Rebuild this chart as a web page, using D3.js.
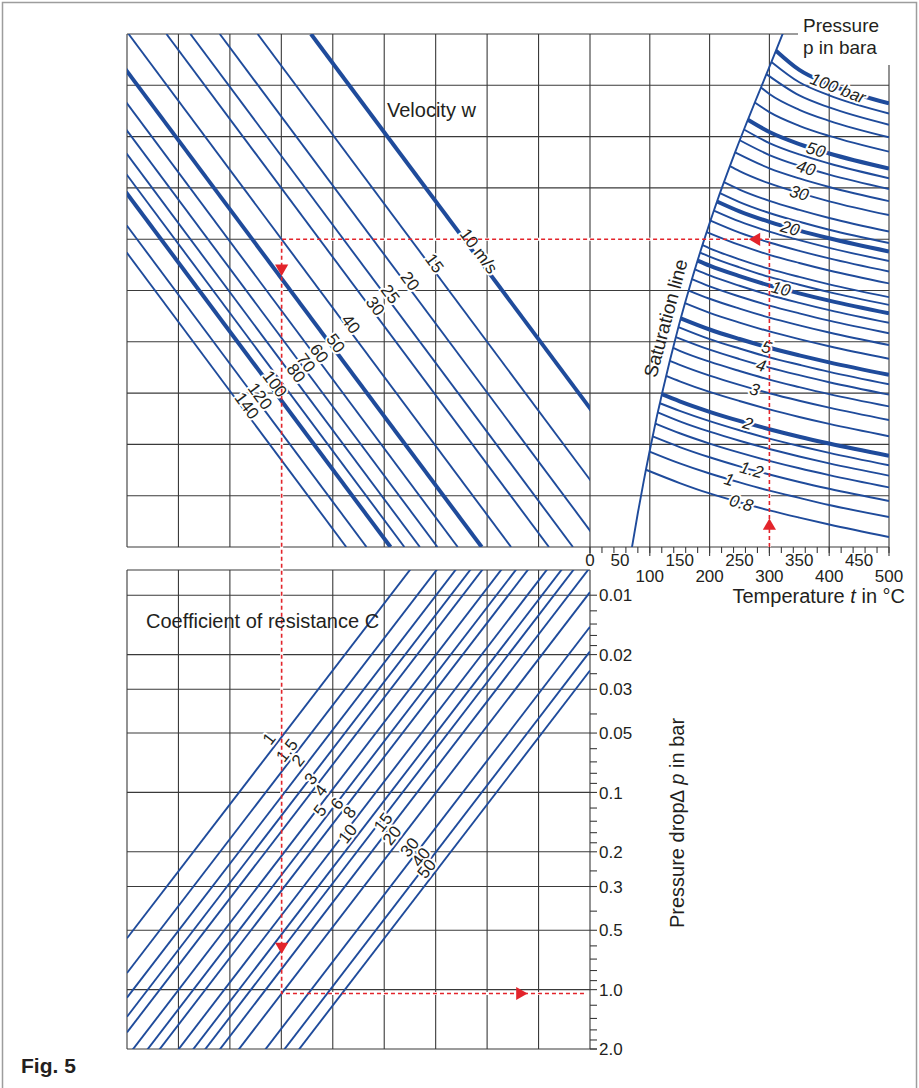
<!DOCTYPE html>
<html>
<head>
<meta charset="utf-8">
<title>Fig. 5</title>
<script src="https://cdn.jsdelivr.net/npm/d3@7/dist/d3.min.js"></script>
<style>
  body { margin: 0; background: #fff; }
  svg { display: block; font-family: "Liberation Sans", Arial, Helvetica, sans-serif; }
</style>
</head>
<body>
<svg id="chart" width="919" height="1088"></svg>
<script>
// velocity lines w in m/s (top left block)
const velocities = [10, 15, 20, 25, 30, 40, 50, 60, 70, 80, 90, 100, 120, 140];
const velThick = [10, 50, 100];
const velLabels = ["10 m/s", "15", "20", "25", "30", "40", "50", "60", "70", "80", null, "100", "120", "140"];
// density (kg/m3) where each velocity label sits on its line
const velLabelRho = [5.54, 4.83, 3.94, 3.40, 2.97, 2.42, 1.95, 1.74, 1.56, 1.39, null, 1.23, 1.07, 0.96];

// coefficient of resistance lines (bottom block)
const zetas = [1, 1.5, 2, 2.5, 3, 4, 5, 6, 8, 10, 12, 15, 20, 30, 40, 50];
const zetaLabels = ["1", "1.5", "2", null, "3", "4", "5", "6", "8", "10", null, "15", "20", "30", "40", "50"];
const zetaLabelDp = [0.0569, 0.0652, 0.0733, null, 0.0908, 0.104, 0.1315, 0.1215, 0.134, 0.1725, null, 0.1507, 0.176, 0.2018, 0.2267, 0.2596];

// pressure drop axis (bar)
const dpMajor = [0.01, 0.02, 0.03, 0.05, 0.1, 0.2, 0.3, 0.5, 1, 2];
const dpMajorLabels = ["0.01", "0.02", "0.03", "0.05", "0.1", "0.2", "0.3", "0.5", "1.0", "2.0"];
const dpMinor = [0.012, 0.014, 0.016, 0.018, 0.025, 0.04, 0.06, 0.07, 0.08, 0.09, 0.12, 0.14, 0.16, 0.18,
                 0.25, 0.4, 0.6, 0.7, 0.8, 0.9, 1.2, 1.4, 1.6, 1.8];

// temperature axis labels
const tempLabelsUpper = [0, 50, 150, 250, 350, 450];
const tempLabelsLower = [100, 200, 300, 400, 500];
const tempGrid = [100, 200, 300, 400, 500];

// steam pressure curves (bara): saturation point + density at table temperatures
const pressures = [100, 90, 80, 70, 60, 50, 45, 40, 35, 30, 25, 22, 20, 18, 16, 14, 12, 11, 10, 9, 8, 7, 6, 5,
                   4.5, 4, 3.5, 3, 2.5, 2, 1.8, 1.6, 1.4, 1.2, 1, 0.8];
const thickPressures = [100, 50, 20, 10, 5, 2];
const satTemp = [311.0, 303.4, 295.0, 285.9, 275.6, 264.0, 257.5, 250.4, 242.6, 233.9, 224.0, 217.3, 212.4, 207.2,
                 201.4, 195.1, 188.0, 184.1, 179.9, 175.4, 170.4, 165.0, 158.8, 151.8, 147.9, 143.6, 138.9, 133.5,
                 127.4, 120.2, 116.9, 113.3, 109.3, 104.8, 99.6, 93.5];
const satRho = [55.46, 48.83, 42.52, 36.54, 30.83, 25.35, 22.70, 20.09, 17.52, 15.00, 12.50, 11.03, 10.04, 9.06,
                8.08, 7.10, 6.12, 5.63, 5.14, 4.65, 4.16, 3.66, 3.17, 2.67, 2.42, 2.16, 1.91, 1.65,
                1.39, 1.13, 1.02, 0.92, 0.81, 0.70, 0.59, 0.48];
const tableTemps = [150, 200, 250, 300, 350, 400, 500];
const rhoTable = [
  [null, null, null, null, 44.60, 37.86, 30.50],
  [null, null, null, null, 38.76, 33.41, 27.21],
  [null, null, null, null, 33.39, 29.14, 23.96],
  [null, null, null, 33.93, 28.38, 25.04, 20.78],
  [null, null, null, 27.65, 23.68, 21.10, 17.65],
  [null, null, null, 22.07, 19.25, 17.30, 14.58],
  [null, null, null, 19.47, 17.11, 15.44, 13.07],
  [null, null, null, 17.00, 15.05, 13.62, 11.57],
  [null, null, null, 14.62, 13.04, 11.83, 10.08],
  [null, null, 14.17, 12.32, 11.06, 10.06, 8.606],
  [null, null, 11.49, 10.11, 9.13, 8.326, 7.148],
  [null, null, 9.97, 8.81, 7.98, 7.289, 6.27],
  [null, null, 8.977, 7.968, 7.215, 6.614, 5.692],
  [null, null, 8.006, 7.133, 6.48, 5.938, 5.115],
  [null, null, 7.052, 6.305, 5.738, 5.266, 4.539],
  [null, null, 6.133, 5.486, 5.001, 4.591, 3.967],
  [null, 5.907, 5.214, 4.677, 4.270, 3.925, 3.394],
  [null, 5.38, 4.76, 4.268, 3.907, 3.592, 3.108],
  [null, 4.854, 4.310, 3.878, 3.545, 3.262, 2.824],
  [null, 4.342, 3.863, 3.480, 3.184, 2.932, 2.539],
  [null, 3.834, 3.420, 3.085, 2.825, 2.602, 2.256],
  [null, 3.334, 2.981, 2.693, 2.467, 2.274, 1.972],
  [null, 2.841, 2.545, 2.302, 2.110, 1.947, 1.689],
  [null, 2.353, 2.112, 1.913, 1.755, 1.620, 1.407],
  [null, 2.112, 1.897, 1.717, 1.578, 1.455, 1.265],
  [null, 1.872, 1.683, 1.527, 1.402, 1.294, 1.125],
  [1.848, 1.633, 1.470, 1.333, 1.225, 1.131, 0.984],
  [1.577, 1.396, 1.257, 1.142, 1.049, 0.970, 0.843],
  [1.308, 1.160, 1.046, 0.951, 0.873, 0.807, 0.702],
  [1.042, 0.926, 0.835, 0.760, 0.698, 0.646, 0.562],
  [0.936, 0.833, 0.751, 0.683, 0.628, 0.581, 0.505],
  [0.831, 0.739, 0.667, 0.607, 0.558, 0.516, 0.449],
  [0.726, 0.646, 0.583, 0.531, 0.488, 0.452, 0.393],
  [0.621, 0.553, 0.499, 0.455, 0.418, 0.387, 0.337],
  [0.516, 0.460, 0.416, 0.379, 0.349, 0.322, 0.281],
  [0.413, 0.367, 0.332, 0.303, 0.279, 0.258, 0.224]
];
// saturation line beyond the drawn pressures [t, rho]
const satExtra = [[70, 0.198], [80, 0.294], [90, 0.424], [320, 64.6], [325, 70.4]];

const pressureLabels = [100, 50, 40, 30, 20, 10, 5, 4, 3, 2, 1.2, 1, 0.8];
const pressureLabelT = [415, 378, 361, 350, 335, 319, 295, 286, 275, 264, 270, 233, 253];

// worked example drawn in red
const example = { t: 300, rho: 6.54, w: 40, zeta: 20 };

// ---- layout ----
const svg = d3.select("#chart");
const blue = "#1f4b9b", red = "#e3242b", ink = "#231f20", gridColor = "#3a3a3a";

const left = 127, mid = 590, right = 889;
const topY0 = 34, topY1 = 547, botY0 = 570, botY1 = 1049;

// dynamic pressure q = rho w^2 / 2 (Pa), shared by both blocks
const xQ = d3.scaleLog().domain([54900, 48.2]).range([left, mid]);
const yRho = d3.scaleLog().domain([67, 0.2]).range([topY0, topY1]);
const xT = d3.scaleLinear().domain([0, 500]).range([mid, right]);
const yDp = d3.scaleLog().domain([0.00745, 2]).range([botY0, botY1]);
const colX = d3.scaleLinear().domain([0, 9]).range([left, mid]);
const rowY = d3.scaleLinear().domain([0, 10]).range([topY0, topY1]);

const defs = svg.append("defs");
defs.append("clipPath").attr("id", "clip-top").append("rect")
    .attr("x", left).attr("y", topY0).attr("width", mid - left).attr("height", topY1 - topY0);
defs.append("clipPath").attr("id", "clip-bot").append("rect")
    .attr("x", left).attr("y", botY0).attr("width", mid - left).attr("height", botY1 - botY0);
defs.append("clipPath").attr("id", "clip-right").append("rect")
    .attr("x", mid).attr("y", topY0).attr("width", right - mid).attr("height", topY1 - topY0);

svg.append("rect").attr("x", 2.5).attr("y", 2.5).attr("width", 914).attr("height", 1100)
    .attr("fill", "none").attr("stroke", "#9d9d9d").attr("stroke-width", 1.5);

// ---- grid ----
const grid = svg.append("g").attr("stroke", gridColor).attr("stroke-width", 1.1);

grid.selectAll("line.vt").data(d3.range(10)).join("line").attr("class", "vt")
    .attr("x1", colX).attr("x2", colX).attr("y1", topY0).attr("y2", topY1);
grid.selectAll("line.vb").data(d3.range(10)).join("line").attr("class", "vb")
    .attr("x1", colX).attr("x2", colX).attr("y1", botY0).attr("y2", botY1);
grid.selectAll("line.vr").data(tempGrid).join("line").attr("class", "vr")
    .attr("x1", xT).attr("x2", xT)
    .attr("y1", d => d === 500 ? 65 : d === 400 ? rowY(1) : topY0)
    .attr("y2", d => topY1 + (d % 100 === 0 ? 9 : 6));
grid.selectAll("line.ht").data(d3.range(11)).join("line").attr("class", "ht")
    .attr("x1", left).attr("x2", d => d === 0 ? 798 : right)
    .attr("y1", rowY).attr("y2", rowY);
grid.selectAll("line.hb").data(dpMajor).join("line").attr("class", "hb")
    .attr("x1", left).attr("x2", d => d === 2 ? mid + 7 : mid)
    .attr("y1", yDp).attr("y2", yDp);
grid.append("line").attr("x1", left).attr("x2", mid).attr("y1", botY0).attr("y2", botY0);

// temperature ticks
grid.selectAll("line.tt").data(xT.ticks(20)).join("line").attr("class", "tt")
    .attr("x1", xT).attr("x2", xT).attr("y1", topY1).attr("y2", topY1 + 6);
grid.append("line").attr("x1", mid).attr("x2", mid).attr("y1", topY1).attr("y2", topY1 + 9);

// pressure drop ticks
grid.selectAll("line.dt").data(dpMajor.concat(dpMinor)).join("line").attr("class", "dt")
    .attr("x1", mid).attr("x2", mid + 7).attr("y1", yDp).attr("y2", yDp);

// ---- example path, white underlay hides grid under the dotted line ----
const exQ = example.rho * example.w * example.w / 2;
const exDp = example.zeta * exQ / 1e5;
const exPts = [
    [xT(example.t), topY1],
    [xT(example.t), yRho(example.rho)],
    [xQ(exQ), yRho(example.rho)],
    [xQ(exQ), yDp(exDp)],
    [mid - 3, yDp(exDp)]
];
svg.append("path").attr("d", d3.line()(exPts))
    .attr("fill", "none").attr("stroke", "#fff").attr("stroke-width", 3);

// ---- velocity lines ----
const rhoTop = yRho.domain()[0], rhoBot = yRho.domain()[1];
svg.append("g").attr("clip-path", "url(#clip-top)")
    .selectAll("line").data(velocities).join("line")
    .attr("x1", w => xQ(rhoTop * w * w / 2)).attr("y1", yRho(rhoTop))
    .attr("x2", w => xQ(rhoBot * w * w / 2)).attr("y2", yRho(rhoBot))
    .attr("stroke", blue)
    .attr("stroke-width", w => velThick.includes(w) ? 4 : 1.9);

function halo(sel) {
    sel.attr("stroke", "#fff").attr("stroke-width", 4)
        .attr("stroke-linejoin", "round").attr("paint-order", "stroke");
}

const velAngle = Math.atan2(yRho(rhoBot) - yRho(rhoTop),
    xQ(rhoBot * 50) - xQ(rhoTop * 50)) * 180 / Math.PI;
const velLabelData = velocities.map((w, i) => ({ w, text: velLabels[i], rho: velLabelRho[i] }))
    .filter(d => d.text);
svg.append("g").selectAll("text").data(velLabelData).join("text")
    .attr("transform", d => `translate(${xQ(d.rho * d.w * d.w / 2)},${yRho(d.rho)}) rotate(${velAngle})`)
    .attr("y", 1)
    .attr("text-anchor", "middle")
    .attr("font-size", 17)
    .attr("fill", ink)
    .text(d => d.text)
    .call(halo);

// ---- coefficient of resistance lines ----
const qL = xQ.domain()[0], qR = xQ.domain()[1];
svg.append("g").attr("clip-path", "url(#clip-bot)")
    .selectAll("line").data(zetas).join("line")
    .attr("x1", left).attr("y1", z => yDp(z * qL / 1e5))
    .attr("x2", mid).attr("y2", z => yDp(z * qR / 1e5))
    .attr("stroke", blue).attr("stroke-width", 1.9);

const zetaAngle = Math.atan2(yDp(1e3 / 1e5) - yDp(1e5 / 1e5), xQ(1e3) - xQ(1e5)) * 180 / Math.PI;
const zetaLabelData = zetas.map((z, i) => ({ z, text: zetaLabels[i], dp: zetaLabelDp[i] }))
    .filter(d => d.text);
svg.append("g").selectAll("text").data(zetaLabelData).join("text")
    .attr("transform", d => `translate(${xQ(d.dp * 1e5 / d.z)},${yDp(d.dp)}) rotate(${zetaAngle})`)
    .attr("y", -3)
    .attr("text-anchor", "middle")
    .attr("font-size", 17)
    .attr("fill", ink)
    .text(d => d.text)
    .call(halo);

// ---- steam pressure curves ----
const curves = pressures.map((p, i) => {
    const pts = [[satTemp[i], satRho[i]]];
    tableTemps.forEach((t, j) => {
        if (rhoTable[i][j] != null) pts.push([t, rhoTable[i][j]]);
    });
    return { p, pts };
});
const steamLine = d3.line().x(d => xT(d[0])).y(d => yRho(d[1])).curve(d3.curveMonotoneX);

const right_g = svg.append("g").attr("clip-path", "url(#clip-right)");
const curvePaths = right_g.selectAll("path.pc").data(curves).join("path").attr("class", "pc")
    .attr("d", d => steamLine(d.pts))
    .attr("fill", "none")
    .attr("stroke", blue)
    .attr("stroke-width", d => thickPressures.includes(d.p) ? 4 : 1.9);

const satPts = curves.map(c => c.pts[0]).concat(satExtra).sort((a, b) => a[0] - b[0]);
const satPath = right_g.append("path")
    .attr("d", steamLine(satPts))
    .attr("fill", "none").attr("stroke", blue).attr("stroke-width", 1.9);

// find a point on a drawn path by x or y
function pointOnPath(node, key, value) {
    const n = node.getTotalLength();
    let best = null;
    for (let s = 0; s <= n; s += 0.5) {
        const p = node.getPointAtLength(s);
        if (!best || Math.abs(p[key] - value) < Math.abs(best.p[key] - value)) best = { p, s };
    }
    const a = node.getPointAtLength(Math.max(0, best.s - 4));
    const b = node.getPointAtLength(Math.min(n, best.s + 4));
    return { x: best.p.x, y: best.p.y, angle: Math.atan2(b.y - a.y, b.x - a.x) * 180 / Math.PI };
}

const pLabelData = pressureLabels.map((p, i) => {
    const node = curvePaths.filter(d => d.p === p).node();
    const pt = pointOnPath(node, "x", xT(pressureLabelT[i]));
    return { text: p === 100 ? "100 bar" : String(p), pt };
});
svg.append("g").selectAll("text").data(pLabelData).join("text")
    .attr("transform", d => `translate(${d.pt.x},${d.pt.y}) rotate(${d.pt.angle})`)
    .attr("dy", "0.35em")
    .attr("text-anchor", "middle")
    .attr("font-size", 17)
    .attr("font-style", "italic")
    .attr("fill", ink)
    .text(d => d.text)
    .call(halo);

// label reads upwards along the saturation line, sitting on its left
const satLbl = pointOnPath(satPath.node(), "y", 322);
svg.append("text")
    .attr("transform", `translate(${satLbl.x},${satLbl.y}) rotate(${satLbl.angle})`)
    .attr("y", -8)
    .attr("text-anchor", "middle")
    .attr("font-size", 19)
    .attr("fill", ink)
    .text("Saturation line");

// ---- example in red ----
svg.append("path").attr("d", d3.line()(exPts))
    .attr("fill", "none").attr("stroke", red).attr("stroke-width", 1.6)
    .attr("stroke-dasharray", "4 3");
const tri = d3.symbol(d3.symbolTriangle, 75);
const arrows = [
    { x: xT(example.t), y: topY1 - 21, r: 0 },
    { x: xT(example.t) - 13, y: yRho(example.rho), r: -90 },
    { x: xQ(exQ), y: yRho(example.rho) + 29, r: 180 },
    { x: xQ(exQ), y: yDp(exDp) - 47, r: 180 },
    { x: mid - 70, y: yDp(exDp), r: 90 }
];
svg.append("g").selectAll("path").data(arrows).join("path")
    .attr("d", tri)
    .attr("transform", d => `translate(${d.x},${d.y}) rotate(${d.r})`)
    .attr("fill", red);

// ---- axis labels and titles ----
const labels = svg.append("g").attr("fill", ink);
labels.selectAll("text.tu").data(tempLabelsUpper).join("text").attr("class", "tu")
    .attr("x", xT).attr("y", 566).attr("text-anchor", "middle").attr("font-size", 17).text(d => d);
labels.selectAll("text.tl").data(tempLabelsLower).join("text").attr("class", "tl")
    .attr("x", xT).attr("y", 582).attr("text-anchor", "middle").attr("font-size", 17).text(d => d);
labels.selectAll("text.dp").data(dpMajor).join("text").attr("class", "dp")
    .attr("x", mid + 9).attr("y", yDp).attr("dy", "0.36em").attr("font-size", 17)
    .text((d, i) => dpMajorLabels[i]);

const tTitle = labels.append("text").attr("x", 905).attr("y", 603)
    .attr("text-anchor", "end").attr("font-size", 20);
tTitle.append("tspan").text("Temperature ");
tTitle.append("tspan").attr("font-style", "italic").text("t");
tTitle.append("tspan").text(" in °C");

labels.append("text").attr("x", 803).attr("y", 32).attr("font-size", 19).text("Pressure");
labels.append("text").attr("x", 803).attr("y", 54).attr("font-size", 19).text("p in bara");
labels.append("text").attr("x", 387).attr("y", 117).attr("font-size", 20).text("Velocity w");
labels.append("text").attr("x", 146).attr("y", 628).attr("font-size", 20).text("Coefficient of resistance C");

const dpTitle = labels.append("text").attr("transform", "translate(684,823) rotate(-90)")
    .attr("text-anchor", "middle").attr("font-size", 20);
dpTitle.append("tspan").text("Pressure drop");
dpTitle.append("tspan").attr("font-style", "italic").text("∆ p");
dpTitle.append("tspan").text(" in bar");

labels.append("text").attr("x", 21).attr("y", 1073).attr("font-size", 21)
    .attr("font-weight", "bold").text("Fig. 5");
</script>
</body>
</html>
